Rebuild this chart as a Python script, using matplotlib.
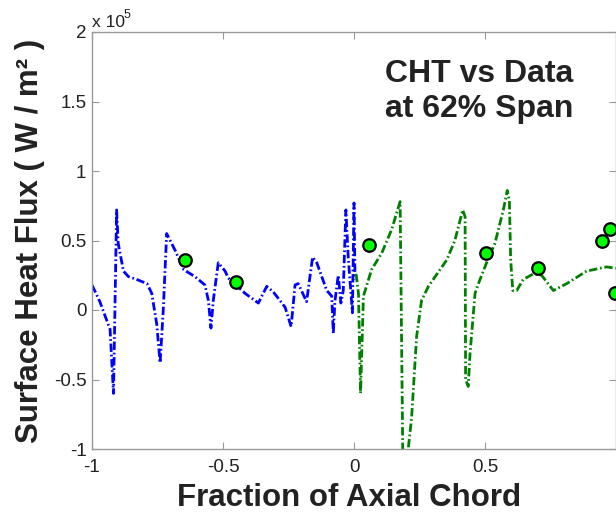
import numpy as np
import matplotlib
matplotlib.use("Agg")
import matplotlib.pyplot as plt
from matplotlib.ticker import FuncFormatter

plt.rcParams['font.family'] = ['Liberation Sans', 'DejaVu Sans']

# CHT prediction, pressure side (x < 0), heat flux in units of 1e5 W/m^2
ps_x = [-1.0, -0.97, -0.931, -0.918, -0.906, -0.90, -0.88, -0.861, -0.83, -0.79,
        -0.772, -0.753, -0.74, -0.728, -0.715, -0.683, -0.65, -0.607, -0.569, -0.556,
        -0.546, -0.537, -0.518, -0.492, -0.48, -0.416, -0.365, -0.333, -0.308, -0.263,
        -0.24, -0.225, -0.213, -0.181, -0.158, -0.142, -0.104, -0.085, -0.079, -0.073,
        -0.06, -0.05, -0.041, -0.031, -0.022, -0.006, 0.0, 0.004]
ps_q = [0.18, 0.06, -0.14, -0.60, 0.72, 0.48, 0.28, 0.24, 0.22, 0.19,
        0.12, -0.10, -0.38, 0.0, 0.55, 0.43, 0.29, 0.24, 0.18, 0.07,
        -0.13, 0.07, 0.34, 0.28, 0.23, 0.12, 0.05, 0.17, 0.13, 0.02,
        -0.12, 0.18, 0.19, 0.06, 0.38, 0.34, 0.14, 0.10, -0.17, 0.06,
        0.25, 0.05, 0.14, 0.72, 0.38, -0.02, 0.77, 0.22]

# CHT prediction, suction side (x > 0)
ss_x = [0.008, 0.017, 0.025, 0.036, 0.067, 0.106, 0.144, 0.176, 0.186, 0.196,
        0.207, 0.22, 0.239, 0.258, 0.284, 0.354, 0.385, 0.415, 0.424, 0.426,
        0.436, 0.443, 0.462, 0.475, 0.506, 0.538, 0.57, 0.585, 0.593, 0.598,
        0.606, 0.621, 0.646, 0.685, 0.716, 0.761, 0.812, 0.888, 0.964, 1.0]
ss_q = [0.26, 0.12, -0.60, 0.10, 0.29, 0.41, 0.58, 0.78, -1.0, -1.25,
        -1.0, -0.77, -0.19, 0.07, 0.17, 0.36, 0.50, 0.72, 0.67, -0.50,
        -0.55, -0.31, 0.12, 0.19, 0.34, 0.48, 0.72, 0.86, 0.79, 0.36,
        0.14, 0.14, 0.22, 0.26, 0.25, 0.14, 0.19, 0.28, 0.31, 0.30]

# measured data
data_x = [-0.645, -0.45, 0.058, 0.503, 0.704, 0.948, 0.977, 0.996]
data_q = [0.36, 0.20, 0.47, 0.41, 0.30, 0.50, 0.58, 0.12]

x_ticks = [-1, -0.5, 0, 0.5]
y_ticks = [-1, -0.5, 0, 0.5, 1, 1.5, 2]
scale = 1e5

fig = plt.figure(figsize=(6.16, 5.2), dpi=100)
ax = fig.add_axes([92 / 616, 71 / 520, 524 / 616, 417 / 520])

dash = (0, (3, 1, 0.6, 1))
ax.plot(ps_x, np.array(ps_q) * scale, color='blue', lw=2.0, linestyle=dash)
ax.plot(ss_x, np.array(ss_q) * scale, color=(0, 0.5, 0), lw=2.0, linestyle=dash)
ax.plot(data_x, np.array(data_q) * scale, 'o', ms=9, mfc=(0, 1, 0), mec='black',
        mew=1.6, clip_on=False, zorder=5)

ax.set_xlim(-1, 1)
ax.set_ylim(-1 * scale, 2 * scale)
ax.set_xticks(x_ticks)
ax.set_yticks(np.array(y_ticks) * scale)
ax.xaxis.set_major_formatter(FuncFormatter(lambda v, p: '%g' % v))
ax.yaxis.set_major_formatter(FuncFormatter(lambda v, p: '%g' % (v / scale)))

for s in ax.spines.values():
    s.set_color('0.6')
    s.set_linewidth(1.0)
ax.tick_params(direction='in', length=5, top=True, right=True, color='0.6',
               labelsize=13.5, labelcolor='#222222')
ax.tick_params(axis='x', pad=7)
ax.tick_params(axis='y', pad=4)

ax.set_xlabel('Fraction of Axial Chord', fontsize=22.5, fontweight='bold', color='#222222')
ax.xaxis.set_label_coords(0.49, -0.082)
ax.set_ylabel('Surface Heat Flux ( W / m² )', fontsize=22.5, fontweight='bold', color='#222222')
ax.yaxis.set_label_coords(-0.09, 0.5)

fig.text(92 / 616, 1 - 27 / 520, 'x 10', fontsize=12.5, color='#222222', va='baseline')
fig.text(124 / 616, 1 - 18 / 520, '5', fontsize=9, color='#222222', va='baseline')

fig.text(385 / 616, 1 - 59 / 520, 'CHT vs Data\nat 62% Span', fontsize=23,
         fontweight='bold', color='#222222', va='top', ha='left', linespacing=1.22)

fig.savefig('out.png', dpi=100)
